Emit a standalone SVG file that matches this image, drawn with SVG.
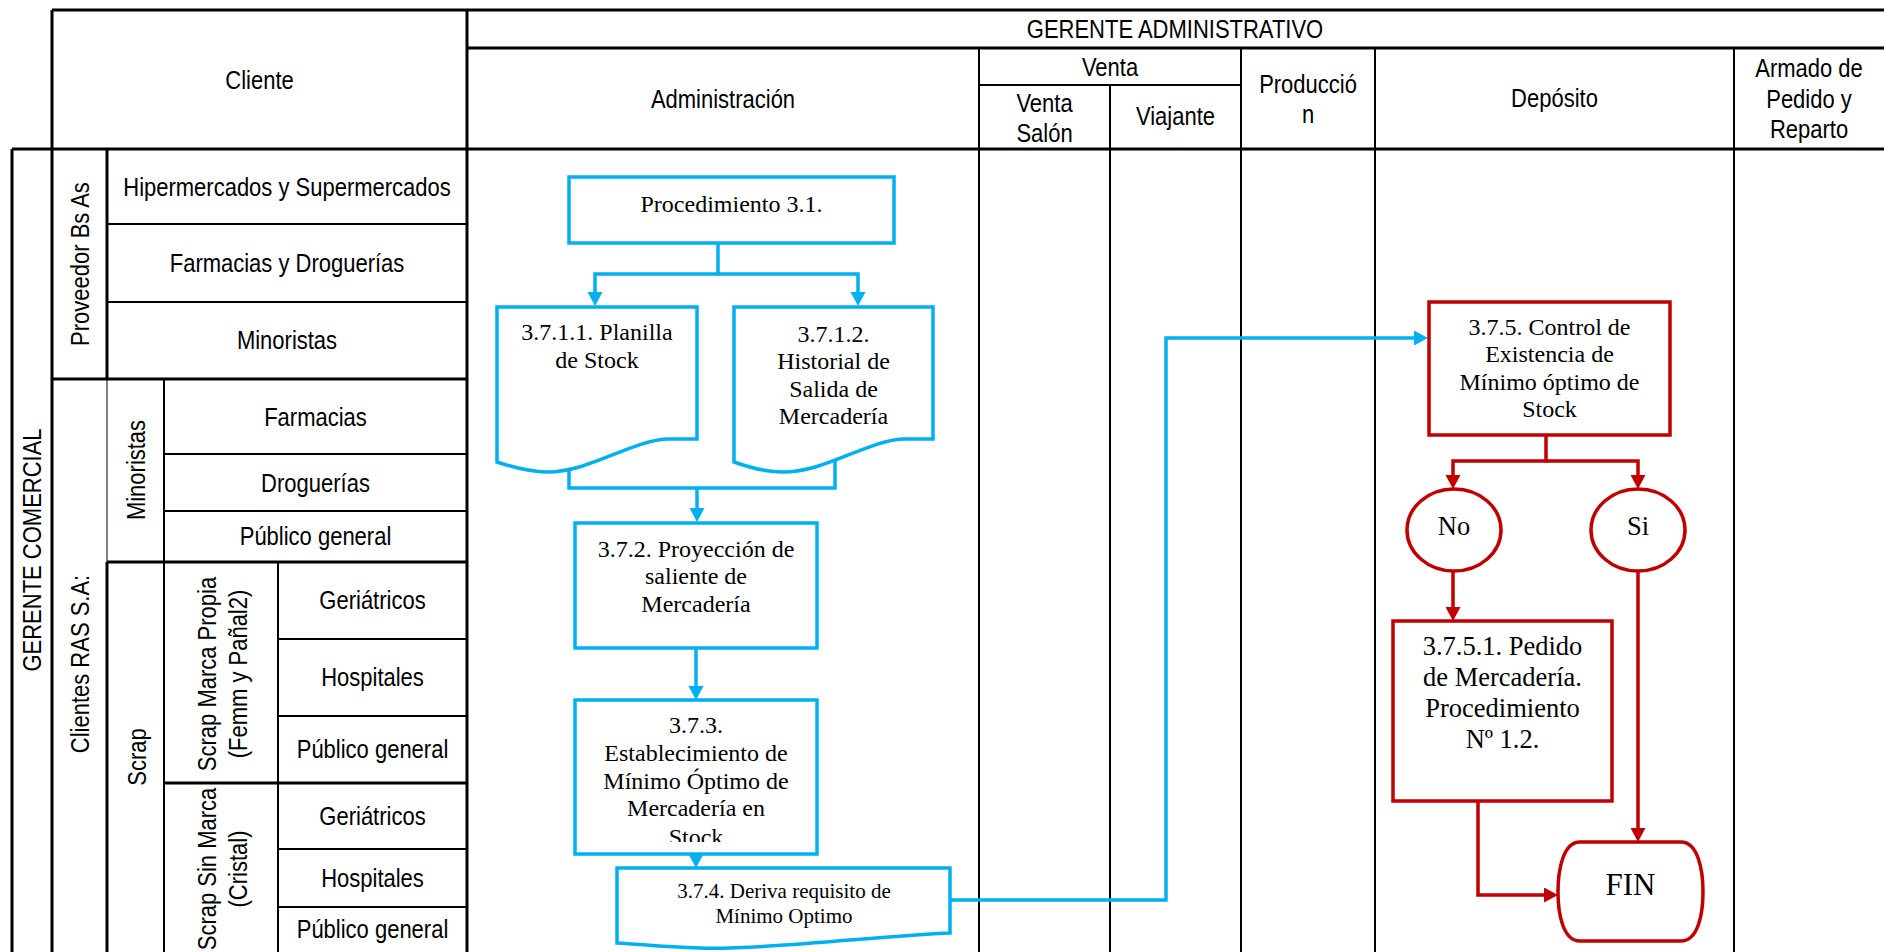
<svg xmlns="http://www.w3.org/2000/svg" width="1884" height="952" viewBox="0 0 1884 952">
<style>
.bg{fill:#ffffff}
.tk{stroke:#000;stroke-width:3;fill:none}
.tn{stroke:#000;stroke-width:2;fill:none}
.hair{stroke:#000;stroke-width:1;fill:none}
.h{font-family:'Liberation Sans',Arial,sans-serif;font-size:25px;fill:#000;text-anchor:middle}
.s{font-family:'Liberation Serif','Times New Roman',serif;font-size:24px;fill:#000;text-anchor:middle}
.s21{font-size:21px}
.s26{font-size:26.5px}
.s31{font-size:31px}
.bn{fill:#fff;stroke:#00B0F0;stroke-width:3.5}
.rn{fill:#fff;stroke:#C00000;stroke-width:3.5}
.bl{fill:none;stroke:#00B0F0;stroke-width:3.5}
.rl{fill:none;stroke:#C00000;stroke-width:3.5}
</style>
<defs>
<marker id="ab" markerUnits="userSpaceOnUse" markerWidth="16" markerHeight="16" refX="4" refY="7.5" orient="auto"><path d="M0,0 L14,7.5 L0,15 Z" fill="#00B0F0"/></marker>
<marker id="ar" markerUnits="userSpaceOnUse" markerWidth="16" markerHeight="16" refX="4" refY="7.5" orient="auto"><path d="M0,0 L14,7.5 L0,15 Z" fill="#C00000"/></marker>
<clipPath id="c373"><rect x="575" y="700" width="242" height="142"/></clipPath>
</defs>
<rect class="bg" x="0" y="0" width="1884" height="952"/>

<g id="table">
<path class="tk" d="M52,10 H1884 M467,48 H1884 M12,149 H1884 M12,149 V952 M52,10 V952 M467,10 V952 M52,379 H467 M107,562 H467 M164,783 H467 M107,149 V379 M107,562 V952"/>
<path class="tn" d="M979,48 V952 M1110,85 V952 M1241,48 V952 M1375,48 V952 M1734,48 V952 M979,85 H1241 M107,224 H467 M107,302 H467 M164,379 V952 M164,454 H467 M164,511 H467 M278,562 V952 M278,639 H467 M278,716 H467 M278,849 H467 M278,907 H467"/>
<path class="hair" d="M107,379 V562"/>
<text class="h" transform="translate(259.5,89) scale(0.88,1)">Cliente</text>
<text class="h" transform="translate(1175,38) scale(0.88,1)">GERENTE ADMINISTRATIVO</text>
<text class="h" transform="translate(723,108) scale(0.88,1)">Administración</text>
<text class="h" transform="translate(1110,76) scale(0.88,1)">Venta</text>
<text class="h" transform="translate(1044.5,112) scale(0.88,1)">Venta</text>
<text class="h" transform="translate(1044.5,142) scale(0.88,1)">Salón</text>
<text class="h" transform="translate(1175.5,125) scale(0.88,1)">Viajante</text>
<text class="h" transform="translate(1308,93) scale(0.88,1)">Producció</text>
<text class="h" transform="translate(1308,123) scale(0.88,1)">n</text>
<text class="h" transform="translate(1554.5,107) scale(0.88,1)">Depósito</text>
<text class="h" transform="translate(1809,77) scale(0.88,1)">Armado de</text>
<text class="h" transform="translate(1809,108) scale(0.88,1)">Pedido y</text>
<text class="h" transform="translate(1809,138) scale(0.88,1)">Reparto</text>
<text class="h" transform="translate(41,550) rotate(-90) scale(0.88,1)">GERENTE COMERCIAL</text>
<text class="h" transform="translate(89,264) rotate(-90) scale(0.88,1)">Proveedor Bs As</text>
<text class="h" transform="translate(89,664) rotate(-90) scale(0.88,1)">Clientes RAS S.A:</text>
<text class="h" transform="translate(145,470) rotate(-90) scale(0.88,1)">Minoristas</text>
<text class="h" transform="translate(146,757) rotate(-90) scale(0.88,1)">Scrap</text>
<text class="h" transform="translate(216,674) rotate(-90) scale(0.88,1)">Scrap Marca Propia</text>
<text class="h" transform="translate(247,674) rotate(-90) scale(0.88,1)">(Femm y Pañal2)</text>
<text class="h" transform="translate(216,869) rotate(-90) scale(0.88,1)">Scrap Sin Marca</text>
<text class="h" transform="translate(247,869) rotate(-90) scale(0.88,1)">(Cristal)</text>
<text class="h" transform="translate(287,196) scale(0.88,1)">Hipermercados y Supermercados</text>
<text class="h" transform="translate(287,272) scale(0.88,1)">Farmacias y Droguerías</text>
<text class="h" transform="translate(287,349) scale(0.88,1)">Minoristas</text>
<text class="h" transform="translate(315.5,426) scale(0.88,1)">Farmacias</text>
<text class="h" transform="translate(315.5,492) scale(0.88,1)">Droguerías</text>
<text class="h" transform="translate(315.5,545) scale(0.88,1)">Público general</text>
<text class="h" transform="translate(372.5,609) scale(0.88,1)">Geriátricos</text>
<text class="h" transform="translate(372.5,686) scale(0.88,1)">Hospitales</text>
<text class="h" transform="translate(372.5,758) scale(0.88,1)">Público general</text>
<text class="h" transform="translate(372.5,825) scale(0.88,1)">Geriátricos</text>
<text class="h" transform="translate(372.5,887) scale(0.88,1)">Hospitales</text>
<text class="h" transform="translate(372.5,938) scale(0.88,1)">Público general</text>
</g>

<g id="connectors">
<path class="bl" d="M718,243 V274 H595 V296" marker-end="url(#ab)"/>
<path class="bl" d="M718,274 H858 V296" marker-end="url(#ab)"/>
<path class="bl" d="M569,470 V488 H835 V461"/>
<path class="bl" d="M697,488 V512" marker-end="url(#ab)"/>
<path class="bl" d="M696,648 V690" marker-end="url(#ab)"/>
<path class="bl" d="M696,855 V858" marker-end="url(#ab)"/>
<path class="bl" d="M950,900 H1166 V338 H1418" marker-end="url(#ab)"/>
<path class="rl" d="M1546,435 V461 H1453 V479" marker-end="url(#ar)"/>
<path class="rl" d="M1546,461 H1638 V479" marker-end="url(#ar)"/>
<path class="rl" d="M1453,571 V611" marker-end="url(#ar)"/>
<path class="rl" d="M1638,571 V832" marker-end="url(#ar)"/>
<path class="rl" d="M1478,801 V895 H1548" marker-end="url(#ar)"/>
</g>

<g id="n31">
<rect class="bn" x="569" y="177" width="325" height="66"/>
<text class="s" x="731.5" y="212">Procedimiento 3.1.</text>
</g>
<g id="n3711">
<path class="bn" d="M497,307 H697 V439 H667 C630,441 590,472 547,472 C530,472 512,467 497,462 Z"/>
<text class="s" x="597" y="340">3.7.1.1. Planilla</text>
<text class="s" x="597" y="368">de Stock</text>
</g>
<g id="n3712">
<path class="bn" d="M734,307 H933 V439 H903 C866,441 826,472 783,472 C766,472 748,467 734,462 Z"/>
<text class="s" x="833.5" y="342">3.7.1.2.</text>
<text class="s" x="833.5" y="369">Historial de</text>
<text class="s" x="833.5" y="397">Salida de</text>
<text class="s" x="833.5" y="424">Mercadería</text>
</g>
<g id="n372">
<rect class="bn" x="575" y="523" width="242" height="125"/>
<text class="s" x="696" y="557">3.7.2. Proyección de</text>
<text class="s" x="696" y="584">saliente de</text>
<text class="s" x="696" y="612">Mercadería</text>
</g>
<g id="n373">
<rect class="bn" x="575" y="700" width="242" height="154"/>
<g clip-path="url(#c373)">
<text class="s" x="696" y="733">3.7.3.</text>
<text class="s" x="696" y="761">Establecimiento de</text>
<text class="s" x="696" y="789">Mínimo Óptimo de</text>
<text class="s" x="696" y="816">Mercadería en</text>
<text class="s" x="696" y="845">Stock</text>
</g>
</g>
<g id="n374">
<path class="bn" d="M617,868 H950 V933 C880,936 760,950 700,948 C660,947 640,944 617,943 Z"/>
<text class="s s21" x="784" y="898">3.7.4. Deriva requisito de</text>
<text class="s s21" x="784" y="923">Mínimo Optimo</text>
</g>
<g id="n375">
<rect class="rn" x="1429" y="302" width="241" height="133"/>
<text class="s" x="1549.5" y="335">3.7.5. Control de</text>
<text class="s" x="1549.5" y="362">Existencia de</text>
<text class="s" x="1549.5" y="390">Mínimo óptimo de</text>
<text class="s" x="1549.5" y="417">Stock</text>
</g>
<g id="nNo">
<ellipse class="rn" cx="1454" cy="530" rx="47" ry="41"/>
<text class="s s26" x="1454" y="535">No</text>
</g>
<g id="nSi">
<ellipse class="rn" cx="1638" cy="530" rx="47" ry="41"/>
<text class="s s26" x="1638" y="535">Si</text>
</g>
<g id="n3751">
<rect class="rn" x="1393" y="621" width="219" height="180"/>
<text class="s s26" x="1502.5" y="655">3.7.5.1. Pedido</text>
<text class="s s26" x="1502.5" y="686">de Mercadería.</text>
<text class="s s26" x="1502.5" y="717">Procedimiento</text>
<text class="s s26" x="1502.5" y="748">Nº 1.2.</text>
</g>
<g id="nFIN">
<path class="rn" d="M1580,842 H1681 C1698,842 1703,870 1703,892 C1703,914 1698,941 1681,941 H1580 C1563,941 1558,914 1558,892 C1558,870 1563,842 1580,842 Z"/>
<text class="s s31" x="1630.5" y="895">FIN</text>
</g>
</svg>
